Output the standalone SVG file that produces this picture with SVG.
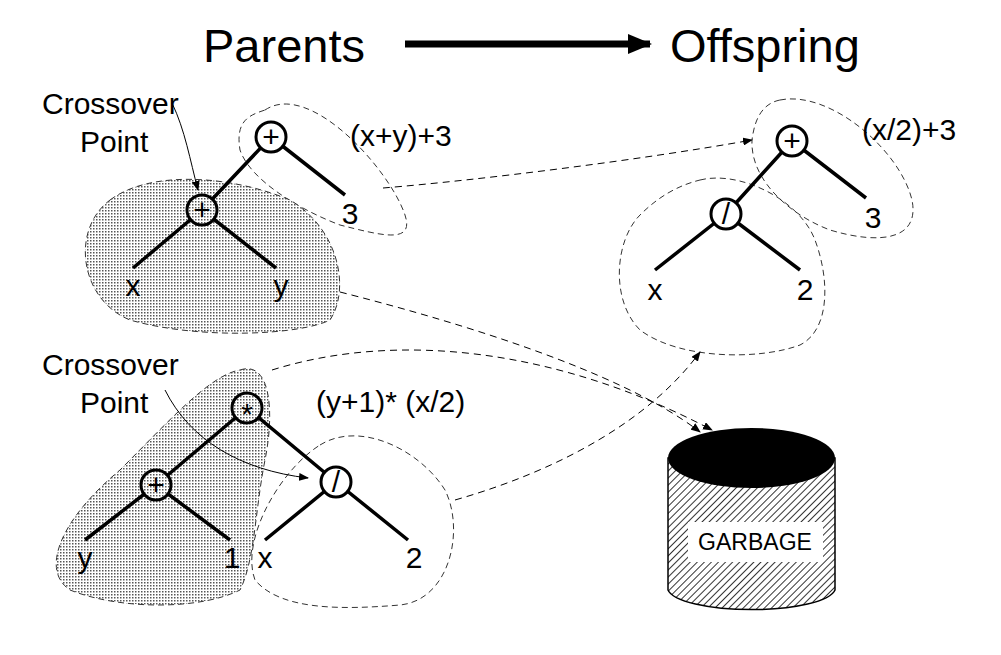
<svg xmlns="http://www.w3.org/2000/svg" width="1001" height="655" viewBox="0 0 1001 655">
<style>
text{font-family:"Liberation Sans",Arial,sans-serif;fill:#000}
.lbl{font-size:30px}
.t{font-size:47px}
.edge{stroke:#000;stroke-width:3.5;fill:none}
.nd{fill:#fff;stroke:#000;stroke-width:3}
.nd2{fill:url(#dots);stroke:#000;stroke-width:3}
.blob{fill:none;stroke:#333;stroke-width:1;stroke-dasharray:6 4}
.dots{fill:url(#dots);stroke:#333;stroke-width:1;stroke-dasharray:6 4}
.conn{fill:none;stroke:#000;stroke-width:1;stroke-dasharray:7 5}
</style>
<defs>
<pattern id="dots" width="3" height="3" patternUnits="userSpaceOnUse"><rect width="3" height="3" fill="#fff"/><rect width="1.5" height="1.5" fill="#555"/></pattern>
<pattern id="hatch" width="5" height="5" patternUnits="userSpaceOnUse" patternTransform="rotate(45)"><rect width="5" height="5" fill="#fff"/><line x1="0" y1="0" x2="0" y2="5" stroke="#000" stroke-width="1.6"/></pattern>
<marker id="ah" markerWidth="10" markerHeight="8" refX="9" refY="4" orient="auto" markerUnits="userSpaceOnUse"><path d="M0,0L10,4L0,8z" fill="#000"/></marker>
<marker id="big" markerWidth="24" markerHeight="20" refX="22" refY="10" orient="auto" markerUnits="userSpaceOnUse"><path d="M0,0L24,10L0,20z" fill="#000"/></marker>
</defs>
<g id="title">
<text class="t" x="203" y="62">Parents</text>
<line x1="405" y1="44" x2="650" y2="44" stroke="#000" stroke-width="7" marker-end="url(#big)"/>
<text class="t" x="670" y="62">Offspring</text>
</g>
<g id="regions">
<path class="blob" d="M265,110 C310,80 390,170 405,215 C415,245 380,235 340,225 C300,210 250,180 240,150 C235,120 250,115 265,110z"/>
<path class="dots" d="M110,200 C150,170 230,175 290,200 C340,230 350,290 330,320 C300,335 200,340 130,320 C80,300 70,230 110,200z"/>
<path class="dots" d="M240,370 C270,360 275,410 265,460 C255,510 255,560 240,590 C200,610 120,610 70,590 C40,570 60,520 120,470 C170,420 210,375 240,370z"/>
<path class="blob" d="M320,445 C360,420 420,450 445,490 C465,530 450,600 400,605 C340,610 280,610 255,580 C240,540 280,470 320,445z"/>
<path class="blob" d="M780,100 C830,90 900,150 912,200 C920,240 880,245 830,230 C790,215 750,180 752,140 C755,115 765,103 780,100z"/>
<path class="blob" d="M700,180 C740,170 800,200 815,240 C830,280 830,330 800,345 C760,360 680,360 640,330 C610,300 615,240 640,215 C660,195 680,185 700,180z"/>
</g>
<g id="connectors">
<path class="conn" d="M383,188 C480,180 640,160 752,140" marker-end="url(#ah)"/>
<path class="conn" d="M340,292 C450,320 620,370 700,432" marker-end="url(#ah)"/>
<path class="conn" d="M272,370 C400,330 560,350 712,430" marker-end="url(#ah)"/>
<path class="conn" d="M455,500 C560,470 650,420 700,352" marker-end="url(#ah)"/>
<path d="M172,103 C185,130 190,160 198,190" fill="none" stroke="#000" stroke-width="1" marker-end="url(#ah)"/>
<path d="M165,390 C190,440 240,470 308,478" fill="none" stroke="#000" stroke-width="1" marker-end="url(#ah)"/>
</g>
<g id="tree1">
<path class="edge" d="M271,137L202,210M271,137L345,195M202,210L133,268M202,210L276,268"/>
<circle class="nd" cx="271" cy="137" r="15"/><text class="lbl" x="271" y="147" text-anchor="middle">+</text>
<circle class="nd2" cx="202" cy="210" r="15"/><text class="lbl" x="202" y="220" text-anchor="middle">+</text>
<text class="lbl" x="133" y="296" text-anchor="middle">x</text>
<text class="lbl" x="281" y="296" text-anchor="middle">y</text>
<text class="lbl" x="350" y="224" text-anchor="middle">3</text>
<text class="lbl" x="350" y="146">(x+y)+3</text>
<text class="lbl" x="42" y="114">Crossover</text>
<text class="lbl" x="80" y="152">Point</text>
</g>
<g id="tree2">
<path class="edge" d="M247,408L156,485M247,408L336,482M156,485L85,540M156,485L230,540M336,482L265,540M336,482L408,540"/>
<circle class="nd2" cx="247" cy="408" r="15"/><text x="247" y="424" font-size="30" text-anchor="middle">*</text>
<circle class="nd2" cx="156" cy="485" r="15"/><text class="lbl" x="156" y="495" text-anchor="middle">+</text>
<circle class="nd" cx="336" cy="482" r="15"/><text class="lbl" x="336" y="492" text-anchor="middle">/</text>
<text class="lbl" x="85" y="568" text-anchor="middle">y</text>
<text class="lbl" x="232" y="568" text-anchor="middle">1</text>
<text class="lbl" x="265" y="568" text-anchor="middle">x</text>
<text class="lbl" x="414" y="568" text-anchor="middle">2</text>
<text class="lbl" x="316" y="412">(y+1)* (x/2)</text>
<text class="lbl" x="42" y="375">Crossover</text>
<text class="lbl" x="80" y="413">Point</text>
</g>
<g id="offspring">
<path class="edge" d="M792,141L726,214M792,141L866,198M726,214L655,270M726,214L800,270"/>
<circle class="nd" cx="792" cy="141" r="15"/><text class="lbl" x="792" y="151" text-anchor="middle">+</text>
<circle class="nd" cx="726" cy="214" r="15"/><text class="lbl" x="726" y="224" text-anchor="middle">/</text>
<text class="lbl" x="655" y="300" text-anchor="middle">x</text>
<text class="lbl" x="805" y="300" text-anchor="middle">2</text>
<text class="lbl" x="873" y="228" text-anchor="middle">3</text>
<text class="lbl" x="862" y="140">(x/2)+3</text>
</g>
<g id="garbage">
<path d="M668,458 L668,590 A84,22 0 0 0 835,590 L835,458z" fill="url(#hatch)" stroke="#000" stroke-width="1.5"/>
<ellipse cx="751.5" cy="458" rx="83.5" ry="30" fill="#000"/>
<rect x="688" y="522" width="135" height="40" fill="#fff"/>
<text x="755" y="550" font-size="23" text-anchor="middle">GARBAGE</text>
</g>
</svg>
